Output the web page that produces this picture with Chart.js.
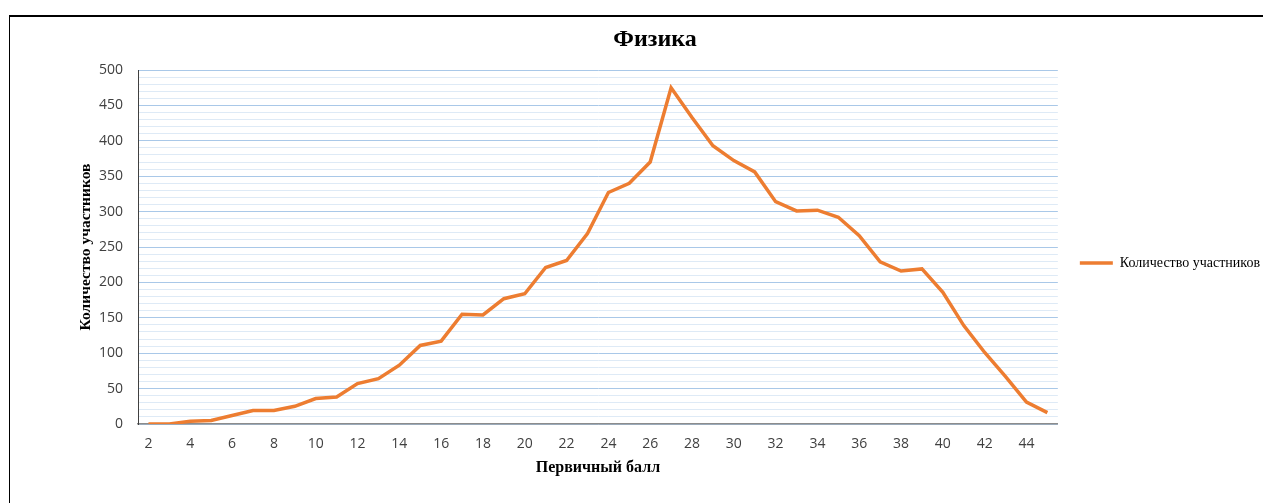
<!DOCTYPE html>
<html>
<head>
<meta charset="utf-8">
<script src="https://cdn.jsdelivr.net/npm/chart.js@4.4.0/dist/chart.umd.min.js"></script>
<style>
    html, body { margin: 0; padding: 0; background: #fff; overflow: hidden; }
    #frame { position: absolute; left: 9px; top: 15px; width: 1300px; height: 520px;
             border-top: 2px solid #000; border-left: 1px solid #000; }
    #chart { display: block; }
</style>
</head>
<body>
<div id="frame"><canvas id="chart" width="1260" height="492"></canvas></div>
<script>
// первичный балл (ось X)
const scores = ['2', '3', '4', '5', '6', '7', '8', '9', '10', '11', '12', '13', '14', '15',
    '16', '17', '18', '19', '20', '21', '22', '23', '24', '25', '26', '27', '28', '29',
    '30', '31', '32', '33', '34', '35', '36', '37', '38', '39', '40', '41', '42', '43',
    '44', '45'];
// количество участников на каждый балл
const participants = [0, 0, 4, 5, 12, 19, 19, 25, 36, 38, 57, 64, 83, 111, 117, 155, 154,
    177, 184, 221, 231, 269, 327, 340, 370, 475, 433, 393, 372, 356, 314, 301, 302, 292,
    266, 229, 216, 219, 186, 139, 101, 67, 31, 16];

const seriesName = 'Количество участников';
const chartTitle = 'Физика';
const xTitle = 'Первичный балл';
const yTitle = 'Количество участников';

const yMax = 500;
const yMajorStep = 50;
const yMinorStep = 10;

const serif = "'Liberation Serif', 'Times New Roman', serif";
const sans = "'Open Sans', 'Noto Sans', sans-serif";

new Chart(document.getElementById('chart'), {
    type: 'line',
    data: {
        labels: scores,
        datasets: [{
            label: seriesName,
            data: participants,
            borderColor: '#ED7D31',
            backgroundColor: '#ED7D31',
            borderWidth: 3.5,
            pointRadius: 0,
            tension: 0
        }]
    },
    options: {
        responsive: false,
        animation: false,
        events: [],
        layout: {padding: {left: 30, right: 0, top: 0, bottom: 0}},
        plugins: {
            title: {
                display: true,
                text: chartTitle,
                color: '#000',
                font: {family: serif, size: 24, weight: 'bold'},
                padding: {top: 8.6, bottom: 15.6}
            },
            legend: {
                position: 'right',
                align: 'center',
                labels: {
                    usePointStyle: true,
                    pointStyle: 'line',
                    pointStyleWidth: 33,
                    padding: 22,
                    color: '#000',
                    font: {family: serif, size: 14}
                }
            },
            tooltip: {enabled: false}
        },
        scales: {
            x: {
                type: 'category',
                offset: true,
                grid: {display: false},
                border: {display: true, color: '#8c8c8c', width: 1.5},
                ticks: {
                    autoSkip: false,
                    maxRotation: 0,
                    padding: 3.6,
                    color: '#404040',
                    font: {family: sans, size: 14},
                    callback: (v, i) => i % 2 === 0 ? scores[i] : ''
                },
                title: {
                    display: true,
                    text: xTitle,
                    color: '#000',
                    font: {family: serif, size: 16, weight: 'bold'},
                    padding: {top: 2.4, bottom: 31.4}
                }
            },
            y: {
                min: 0,
                max: yMax,
                grid: {
                    drawTicks: false,
                    lineWidth: 1,
                    color: c => c.tick.value % yMajorStep === 0 ? '#A9C8E8' : '#DEEAF6'
                },
                border: {display: true, color: '#404040', width: 1},
                ticks: {
                    stepSize: yMinorStep,
                    autoSkip: false,
                    padding: 15,
                    color: '#404040',
                    font: {family: sans, size: 14},
                    callback: v => v % yMajorStep === 0 ? v : ''
                },
                title: {
                    display: true,
                    text: yTitle,
                    color: '#000',
                    font: {family: serif, size: 15.5, weight: 'bold'},
                    padding: {top: 36.7, bottom: -11.3}
                }
            }
        }
    }
});
</script>
</body>
</html>
